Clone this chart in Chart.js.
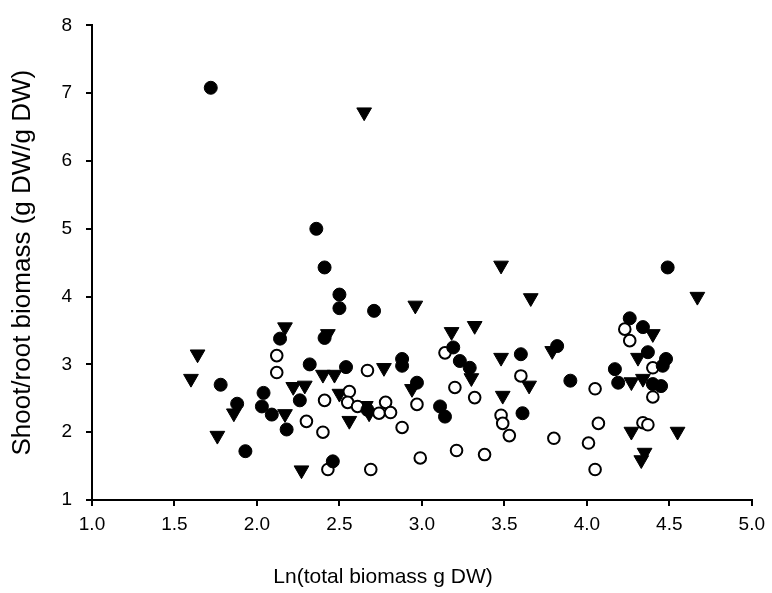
<!DOCTYPE html>
<html>
<head>
<meta charset="utf-8">
<script src="https://cdn.jsdelivr.net/npm/chart.js@4"></script>
<style>
  body { margin: 0; background: #fff; }
  #wrap { width: 772px; height: 593px; }
</style>
</head>
<body>
<div id="wrap"><canvas id="scatter" width="772" height="593"></canvas></div>
<script>
// x = Ln(total biomass), y = shoot/root ratio
const filledCircles = [
  [1.72, 7.08], [2.36, 5.00], [2.41, 4.43], [2.14, 3.38], [2.41, 3.39], [2.32, 3.00],
  [1.78, 2.70], [2.04, 2.58], [2.26, 2.47], [1.88, 2.42], [2.03, 2.38], [2.09, 2.26],
  [2.18, 2.04], [1.93, 1.72], [2.50, 4.03], [2.50, 3.83], [2.71, 3.79], [3.19, 3.25],
  [3.23, 3.05], [3.60, 3.15], [2.88, 3.08], [2.88, 2.98], [3.29, 2.95], [2.54, 2.96],
  [2.97, 2.73], [3.11, 2.38], [3.14, 2.23], [3.61, 2.28], [2.46, 1.57], [2.67, 2.33],
  [4.49, 4.43], [4.26, 3.68], [4.34, 3.55], [3.82, 3.27], [4.37, 3.18], [4.48, 3.08],
  [4.46, 2.98], [4.17, 2.93], [4.19, 2.73], [4.40, 2.71], [4.45, 2.68], [3.90, 2.76]
];
const openCircles = [
  [2.12, 3.13], [2.12, 2.88], [2.41, 2.47], [2.30, 2.16], [2.40, 2.00], [2.43, 1.45],
  [3.14, 3.17], [3.60, 2.83], [2.67, 2.91], [3.20, 2.66], [2.56, 2.60], [2.55, 2.44],
  [2.61, 2.38], [2.78, 2.44], [2.74, 2.28], [2.81, 2.29], [2.97, 2.41], [3.32, 2.51],
  [3.48, 2.25], [3.49, 2.13], [3.53, 1.95], [2.88, 2.07], [3.21, 1.73], [3.38, 1.67],
  [2.99, 1.62], [2.69, 1.45], [4.23, 3.52], [4.26, 3.35], [4.40, 2.95], [4.05, 2.64],
  [4.40, 2.52], [4.07, 2.13], [4.34, 2.14], [4.37, 2.11], [3.80, 1.91], [4.01, 1.84],
  [4.05, 1.45]
];
const triangles = [
  [2.65, 6.72], [2.17, 3.55], [1.64, 3.15], [2.40, 2.85], [2.47, 2.85], [1.60, 2.79],
  [2.22, 2.67], [2.29, 2.69], [1.86, 2.28], [2.17, 2.27], [1.76, 1.95], [2.27, 1.44],
  [3.48, 4.46], [2.96, 3.87], [3.66, 3.98], [2.43, 3.45], [3.32, 3.57], [3.18, 3.48],
  [3.48, 3.10], [3.30, 2.80], [3.65, 2.69], [2.77, 2.95], [2.94, 2.64], [2.50, 2.57],
  [2.66, 2.39], [2.68, 2.28], [3.49, 2.54], [2.56, 2.17], [4.67, 4.00], [4.40, 3.45],
  [3.79, 3.20], [4.31, 3.10], [4.27, 2.74], [4.34, 2.79], [4.27, 2.01], [4.55, 2.01],
  [4.35, 1.70], [4.33, 1.59]
];

const xTicks = [1.0, 1.5, 2.0, 2.5, 3.0, 3.5, 4.0, 4.5, 5.0];
const yTicks = [1, 2, 3, 4, 5, 6, 7, 8];
const xTitle = 'Ln(total biomass g DW)';
const yTitle = 'Shoot/root biomass (g DW/g DW)';

function toPoints(list) {
    return list.map(p => ({ x: p[0], y: p[1] }));
}

const fontFamily = 'Liberation Sans, Arial, sans-serif';
const axisFont = { family: fontFamily, size: 19 };

// x title sits left of the plot centre in the original, so draw it ourselves
const xTitlePlugin = {
    id: 'xTitle',
    afterDraw(chart) {
        const c = chart.ctx;
        c.save();
        c.font = '21px ' + fontFamily;
        c.fillStyle = '#000';
        c.textAlign = 'center';
        c.textBaseline = 'middle';
        c.fillText(xTitle, 383, 577);
        c.restore();
    }
};

const ctx = document.getElementById('scatter').getContext('2d');
new Chart(ctx, {
    type: 'scatter',
    data: {
        datasets: [
            {
                label: 'filled',
                data: toPoints(filledCircles),
                pointStyle: 'circle',
                pointRadius: 6.5,
                backgroundColor: '#000',
                borderColor: '#000',
                borderWidth: 1
            },
            {
                label: 'open',
                data: toPoints(openCircles),
                pointStyle: 'circle',
                pointRadius: 5.8,
                backgroundColor: '#fff',
                borderColor: '#000',
                borderWidth: 2
            },
            {
                label: 'triangle',
                data: toPoints(triangles),
                pointStyle: 'triangle',
                rotation: 180,
                pointRadius: 8.5,
                backgroundColor: '#000',
                borderColor: '#000',
                borderWidth: 1
            }
        ]
    },
    options: {
        responsive: false,
        animation: false,
        layout: { padding: { left: 0, right: 15, top: 23, bottom: 0 } },
        plugins: {
            legend: { display: false },
            tooltip: { enabled: false }
        },
        scales: {
            x: {
                type: 'linear',
                min: 1,
                max: 5,
                afterBuildTicks: function(scale) {
                    scale.ticks = xTicks.map(v => ({ value: v }));
                },
                afterFit: function(scale) { scale.height = 93; },
                ticks: {
                    color: '#000',
                    font: axisFont,
                    padding: 7,
                    maxRotation: 0,
                    callback: v => v.toFixed(1)
                },
                grid: {
                    drawOnChartArea: false,
                    drawTicks: true,
                    tickLength: 6,
                    color: '#000',
                    lineWidth: 2
                },
                border: { display: true, color: '#000', width: 2 },
                title: { display: false }
            },
            y: {
                type: 'linear',
                min: 1,
                max: 8,
                afterBuildTicks: function(scale) {
                    scale.ticks = yTicks.map(v => ({ value: v }));
                },
                afterFit: function(scale) { scale.width = 92; },
                ticks: {
                    color: '#000',
                    font: axisFont,
                    padding: 14
                },
                grid: {
                    drawOnChartArea: false,
                    drawTicks: true,
                    tickLength: 6,
                    color: '#000',
                    lineWidth: 2
                },
                border: { display: true, color: '#000', width: 2 },
                title: {
                    display: true,
                    text: yTitle,
                    color: '#000',
                    font: { family: fontFamily, size: 26 },
                    padding: { top: 7, bottom: 0 }
                }
            }
        }
    },
    plugins: [xTitlePlugin]
});
</script>
</body>
</html>
